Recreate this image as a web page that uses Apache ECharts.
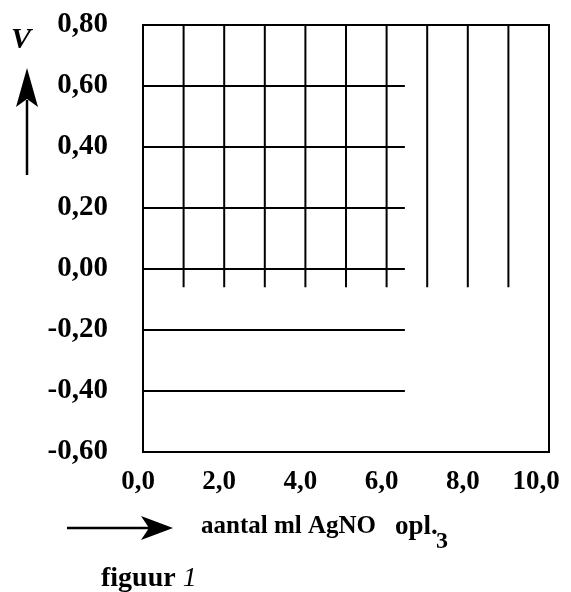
<!DOCTYPE html>
<html><head><meta charset="utf-8">
<script src="https://cdn.jsdelivr.net/npm/echarts@6/dist/echarts.min.js"></script>
<style>html,body{margin:0;padding:0;background:#fff}#c{width:571px;height:592px}</style>
</head><body><div id="c"></div>
<script>
// ---- data ----
const xMin = 0, xMax = 10, xStep = 2;
const yMin = -0.6, yMax = 0.8, yStep = 0.2;
const vLinesX = [1, 2, 3, 4, 5, 6, 7, 8, 9];
const vLineTop = 0.8, vLineBottom = -0.06;
const hLinesY = [0.6, 0.4, 0.2, 0.0, -0.2, -0.4];
const hLineStart = 0, hLineEnd = 6.45;
const xAxisTitle = 'aantal ml AgNO';
const xAxisTitleSub = '3';
const xAxisTitleEnd = 'opl.';
const yAxisTitle = 'V';
const caption = 'figuur';
const captionNum = '1';

const FONT = '"Liberation Serif","Times New Roman",serif';

const segs = [];
vLinesX.forEach(x => { segs.push([x, vLineTop], [x, vLineBottom], [null, null]); });
hLinesY.forEach(y => { segs.push([hLineStart, y], [hLineEnd, y], [null, null]); });

const chart = echarts.init(document.getElementById('c'), null, {renderer: 'canvas'});
chart.setOption({
  animation: false,
  backgroundColor: '#fff',
  grid: {left: 143, right: 22, top: 25, bottom: 140, outerBoundsMode: 'none', containLabel: false,
    show: true, borderColor: '#000', borderWidth: 2, backgroundColor: 'transparent'},
  xAxis: {
    type: 'value', min: xMin, max: xMax, interval: xStep,
    axisLine: {show: true, onZero: false, lineStyle: {color: '#000', width: 2}},
    axisTick: {show: false}, splitLine: {show: false},
    axisLabel: {margin: 17, color: '#000', fontFamily: FONT, fontWeight: 'bold', fontSize: 27,
      formatter: v => {
        const s = v.toFixed(1).replace('.', ',');
        return v === xMax ? '{last|' + s + '}' : '{n|' + s + '}';
      },
      rich: {
        n: {fontFamily: FONT, fontWeight: 'bold', fontSize: 27, color: '#000', padding: [0, 10, 0, 0]},
        last: {fontFamily: FONT, fontWeight: 'bold', fontSize: 27, color: '#000', padding: [0, 26, 0, 0]}
      }}
  },
  yAxis: {
    type: 'value', min: yMin, max: yMax, interval: yStep,
    axisLine: {show: true, lineStyle: {color: '#000', width: 2}},
    axisTick: {show: false}, splitLine: {show: false},
    axisLabel: {margin: 35, color: '#000', fontFamily: FONT, fontWeight: 'bold', fontSize: 29,
      formatter: v => v.toFixed(2).replace('.', ',')}
  },
  series: [{
    type: 'line', data: segs, connectNulls: false, symbol: 'none',
    lineStyle: {color: '#000', width: 2}, silent: true
  }],
  graphic: [
    {type: 'text', left: 11, top: 25, style: {text: yAxisTitle, font: 'italic bold 30px ' + FONT, fill: '#000'}},
    {type: 'line', shape: {x1: 27, y1: 100, x2: 27, y2: 175}, style: {stroke: '#000', lineWidth: 2.5}},
    {type: 'polygon', shape: {points: [[27, 68], [38, 107], [27, 99], [16, 107]]}, style: {fill: '#000'}},
    {type: 'line', shape: {x1: 67, y1: 528, x2: 150, y2: 528}, style: {stroke: '#000', lineWidth: 2.5}},
    {type: 'polygon', shape: {points: [[173, 528], [141, 516], [149, 528], [141, 540]]}, style: {fill: '#000'}},
    {type: 'text', x: 201, y: 527, style: {text: xAxisTitle, font: 'bold 25px ' + FONT, fill: '#000', textVerticalAlign: 'middle'}},
    {type: 'text', x: 395, y: 527, style: {text: xAxisTitleEnd, font: 'bold 27px ' + FONT, fill: '#000', textVerticalAlign: 'middle'}},
    {type: 'text', x: 436, y: 542, style: {text: xAxisTitleSub, font: 'bold 24px ' + FONT, fill: '#000', textVerticalAlign: 'middle'}},
    {type: 'text', x: 101, y: 579, style: {
      text: '{a|' + caption + ' }{b|' + captionNum + '}', textVerticalAlign: 'middle',
      rich: {a: {font: 'bold 28px ' + FONT, fill: '#000'}, b: {font: 'italic 28px ' + FONT, fill: '#000'}}
    }}
  ]
});
</script></body></html>
